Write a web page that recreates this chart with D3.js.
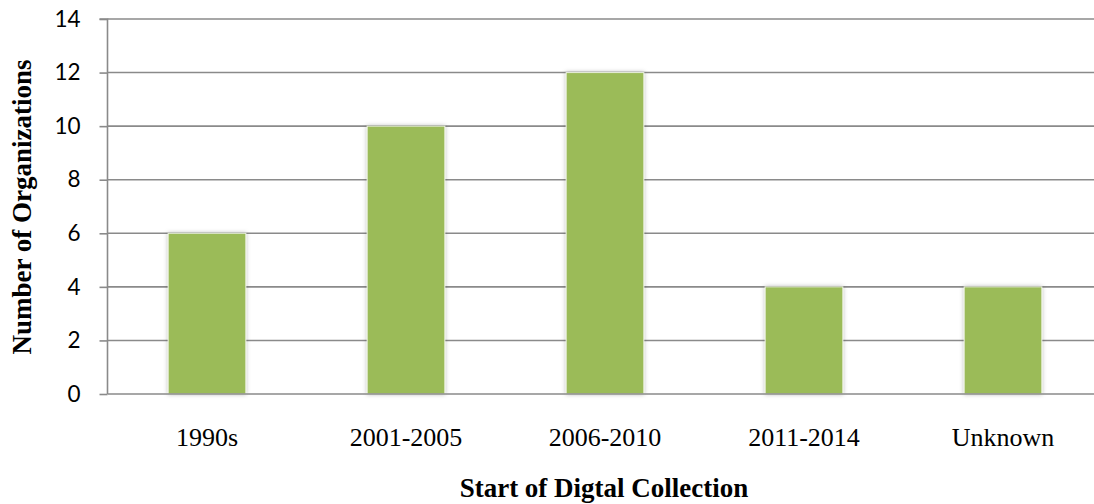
<!DOCTYPE html>
<html>
<head>
<meta charset="utf-8">
<script src="https://cdn.jsdelivr.net/npm/d3@7"></script>
<style>
  html, body { margin: 0; padding: 0; background: #fff; }
  svg { display: block; }
</style>
</head>
<body>
<svg id="chart" width="1094" height="504"></svg>
<script>
// Organizations by start period of their digital collection
const categories = ["1990s", "2001-2005", "2006-2010", "2011-2014", "Unknown"];
const counts = [6, 10, 12, 4, 4];
const yTicks = [0, 2, 4, 6, 8, 10, 12, 14];

const svg = d3.select("#chart");
const plotLeft = 107.5, plotRight = 1102.5, plotTop = 19, plotBottom = 394;

const x = d3.scaleBand()
  .domain(categories)
  .range([plotLeft, plotRight])
  .paddingInner(0.61)
  .paddingOuter(0.305);

const y = d3.scaleLinear().domain([0, 14]).range([plotBottom, plotTop]);

const gridColor = "#8a8a8a";

// soft shadow around the bars
const defs = svg.append("defs");
const f = defs.append("filter").attr("id", "barShadow")
  .attr("x", "-20%").attr("y", "-10%").attr("width", "140%").attr("height", "120%");
f.append("feDropShadow")
  .attr("dx", 0).attr("dy", 0).attr("stdDeviation", 2.2)
  .attr("flood-color", "#000").attr("flood-opacity", 0.28);

// horizontal gridlines
svg.append("g").selectAll("line")
  .data(yTicks.filter(d => d > 0))
  .join("line")
  .attr("x1", plotLeft).attr("x2", plotRight)
  .attr("y1", d => y(d)).attr("y2", d => y(d))
  .attr("stroke", gridColor).attr("stroke-width", 1.6);

// y axis with outward ticks
const yAxis = d3.axisLeft(y).tickValues(yTicks).tickSize(8).tickPadding(19).tickFormat(d3.format("d"));
const yg = svg.append("g").attr("transform", `translate(${plotLeft},0)`).call(yAxis);
yg.select(".domain").attr("stroke", gridColor).attr("stroke-width", 1.6).attr("d", `M-8,${plotTop}H0V${plotBottom}`);
yg.selectAll(".tick line").attr("stroke", gridColor).attr("stroke-width", 1.6);
yg.selectAll(".tick text")
  .attr("font-family", "Lato, 'Open Sans', sans-serif")
  .attr("font-size", 22.5).attr("fill", "#000");

// bars
svg.append("g").selectAll("rect")
  .data(categories.map((c, i) => ({ c, v: counts[i] })))
  .join("rect")
  .attr("x", d => x(d.c))
  .attr("width", x.bandwidth())
  .attr("y", d => y(d.v))
  .attr("height", d => y(0) - y(d.v))
  .attr("fill", "#9bbb59")
  .attr("stroke", "#e9f0dc").attr("stroke-width", 1)
  .attr("filter", "url(#barShadow)");

// x axis baseline
const xAxis = d3.axisBottom(x).tickSize(0).tickPadding(34);
const xg = svg.append("g").attr("transform", `translate(0,${plotBottom})`).call(xAxis);
xg.select(".domain").attr("stroke", gridColor).attr("stroke-width", 1.6).attr("d", `M${plotLeft},0H${plotRight}`);
xg.selectAll(".tick text")
  .attr("font-family", "'Liberation Serif', 'Times New Roman', serif")
  .attr("font-size", 26).attr("fill", "#000");

// axis titles
svg.append("text")
  .attr("x", 604).attr("y", 497)
  .attr("text-anchor", "middle")
  .attr("font-family", "'Liberation Serif', 'Times New Roman', serif")
  .attr("font-weight", "bold").attr("font-size", 27)
  .text("Start of Digtal Collection");

svg.append("text")
  .attr("transform", "translate(31,207) rotate(-90)")
  .attr("text-anchor", "middle")
  .attr("font-family", "'Liberation Serif', 'Times New Roman', serif")
  .attr("font-weight", "bold").attr("font-size", 27)
  .text("Number of Organizations");
</script>
</body>
</html>
